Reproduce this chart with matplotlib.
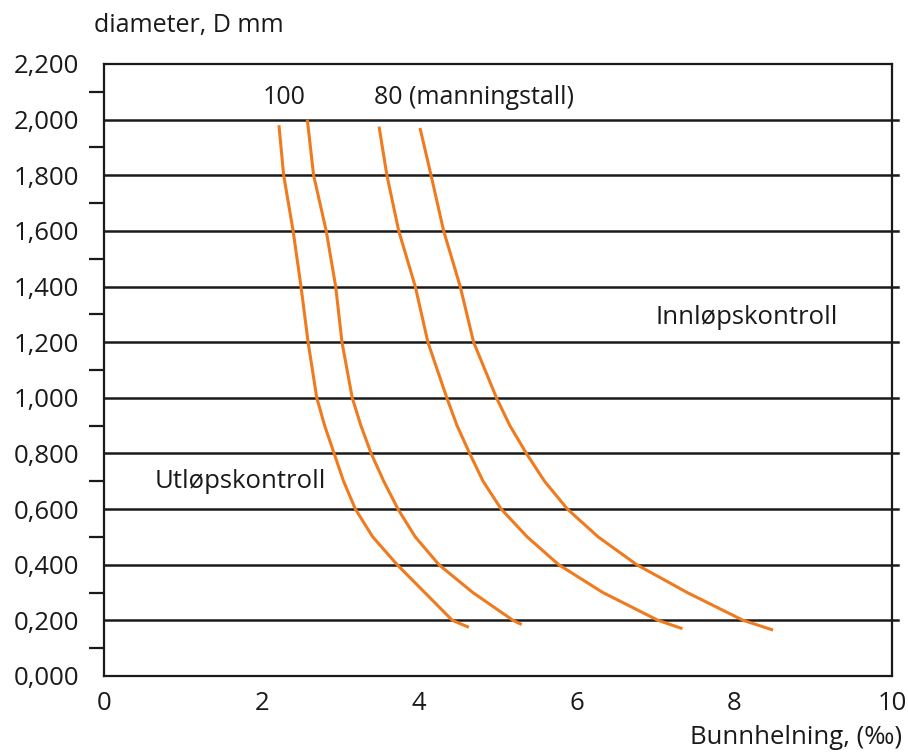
import numpy as np
import matplotlib
matplotlib.use("Agg")
import matplotlib.pyplot as plt

plt.rcParams['font.family'] = ['Open Sans', 'DejaVu Sans']

# curves: slope (per mille) vs diameter (m)
c1_x = [2.22, 2.28, 2.40, 2.50, 2.59, 2.70, 2.80, 2.92, 3.04, 3.19, 3.41, 3.72, 4.07, 4.42, 4.63]
c1_y = [1.98, 1.80, 1.60, 1.40, 1.20, 1.00, 0.90, 0.80, 0.70, 0.60, 0.50, 0.40, 0.30, 0.20, 0.175]
c2_x = [2.58, 2.66, 2.82, 2.94, 3.02, 3.15, 3.26, 3.39, 3.55, 3.73, 3.95, 4.25, 4.68, 5.19, 5.30]
c2_y = [2.00, 1.80, 1.60, 1.40, 1.20, 1.00, 0.90, 0.80, 0.70, 0.60, 0.50, 0.40, 0.30, 0.20, 0.185]
c3_x = [3.49, 3.59, 3.74, 3.95, 4.11, 4.35, 4.48, 4.64, 4.81, 5.04, 5.37, 5.77, 6.33, 7.03, 7.34]
c3_y = [1.975, 1.80, 1.60, 1.40, 1.20, 1.00, 0.90, 0.80, 0.70, 0.60, 0.50, 0.40, 0.30, 0.20, 0.17]
c4_x = [4.01, 4.15, 4.31, 4.52, 4.69, 4.98, 5.15, 5.36, 5.59, 5.88, 6.27, 6.76, 7.40, 8.11, 8.49]
c4_y = [1.97, 1.80, 1.60, 1.40, 1.20, 1.00, 0.90, 0.80, 0.70, 0.60, 0.50, 0.40, 0.30, 0.20, 0.165]

grid_levels = [0.2, 0.4, 0.6, 0.8, 1.0, 1.2, 1.4, 1.6, 1.8, 2.0]
y_ticks = [0.0, 0.2, 0.4, 0.6, 0.8, 1.0, 1.2, 1.4, 1.6, 1.8, 2.0, 2.2]
y_minor = [0.1, 0.3, 0.5, 0.7, 0.9, 1.1, 1.3, 1.5, 1.7, 1.9, 2.1]
x_ticks = [0, 2, 4, 6, 8, 10]

ink = '#1a1a1a'
orange = '#f07a1e'

fig = plt.figure(figsize=(9.08, 7.52), dpi=100)
ax = fig.add_axes([0.1145, 0.1011, 0.868, 0.8138])

for lvl in grid_levels:
    ax.axhline(lvl, xmin=0, xmax=1.008, color=ink, lw=1.8, clip_on=False, zorder=1)

for xs, ys in [(c1_x, c1_y), (c2_x, c2_y), (c3_x, c3_y), (c4_x, c4_y)]:
    ax.plot(xs, ys, color=orange, lw=2.2, solid_capstyle='butt',
            solid_joinstyle='round', zorder=3)

ax.set_xlim(0, 10)
ax.set_ylim(0, 2.2)
ax.set_xticks(x_ticks)
ax.set_xticklabels([str(v) for v in x_ticks])
ax.set_yticks(y_ticks)
ax.set_yticklabels([f"{v:.3f}".replace('.', ',') for v in y_ticks])
ax.set_yticks(y_minor, minor=True)

ax.tick_params(axis='x', length=0, pad=11, labelsize=18.5, labelcolor=ink)
ax.tick_params(axis='y', which='major', length=0, pad=18, labelsize=18.5, labelcolor=ink)
ax.tick_params(axis='y', which='minor', length=11, width=1.6, color=ink)
for s in ax.spines.values():
    s.set_color(ink)
    s.set_linewidth(1.6)

fig.text(0.104, 0.966, "diameter, D mm", fontsize=18, color=ink, va='center', ha='left')
fig.text(0.994, 0.019, "Bunnhelning, (‰)", fontsize=18.5, color=ink, va='center', ha='right')

ax.text(2.28, 2.08, "100", fontsize=18, color=ink, ha='center', va='center')
ax.text(3.43, 2.08, "80 (manningstall)", fontsize=18, color=ink, ha='left', va='center')
ax.text(7.0, 1.29, "Innløpskontroll", fontsize=18.5, color=ink, ha='left', va='center')
ax.text(0.64, 0.70, "Utløpskontroll", fontsize=18.5, color=ink, ha='left', va='center')

fig.savefig("out.png", dpi=100)
